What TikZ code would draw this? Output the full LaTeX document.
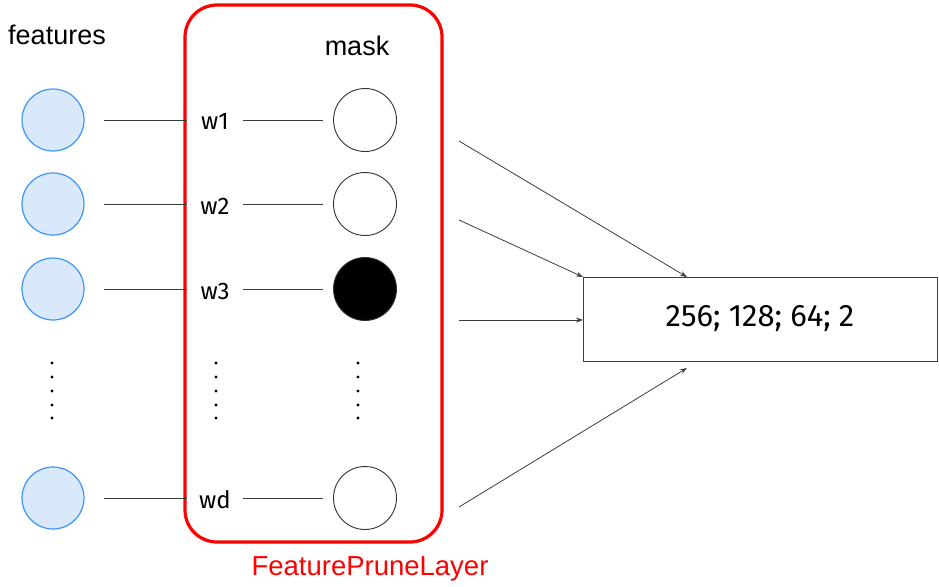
\documentclass[tikz,border=0pt]{standalone}
\usepackage{fontspec}
\setmainfont{Liberation Sans}
\newfontfamily\comicish{Fira Sans}
\usetikzlibrary{arrows.meta}
\definecolor{featfill}{RGB}{218,232,252}
\definecolor{featline}{RGB}{60,150,250}
\definecolor{prunered}{RGB}{255,0,0}
\definecolor{conn}{RGB}{60,60,60}
\begin{document}
\begin{tikzpicture}[x=1pt,y=-1pt,
  feat/.style={circle,draw=featline,fill=featfill,line width=1.2pt,minimum size=62pt,inner sep=0pt},
  maskc/.style={circle,draw=black!80,fill=white,line width=0.9pt,minimum size=63pt,inner sep=0pt},
  wlab/.style={font=\comicish\fontsize{24}{26}\selectfont,inner sep=0pt},
  link/.style={draw=conn,line width=0.8pt},
  arr/.style={draw=conn,line width=0.8pt,-{Stealth[length=7pt,width=5pt]}},
  dot/.style={circle,fill=black,inner sep=0pt,minimum size=3.2pt}]
\useasboundingbox (0,0) rectangle (939,586);
% red layer box
\node[draw=prunered,line width=3.2pt,rounded corners=32pt,minimum width=257pt,minimum height=537pt,inner sep=0pt] (layer) at (313.5,273.5) {};
\node[text=prunered,font=\fontsize{27.5}{30}\selectfont] (lname) at (370,569) {FeaturePruneLayer};
\node[font=\fontsize{27}{29}\selectfont] (ftxt) at (57,35) {features};
\node[font=\fontsize{27}{29}\selectfont] (mtxt) at (357,46) {mask};
% feature circles
\node[feat] (f1) at (53,120) {};
\node[feat] (f2) at (53,204) {};
\node[feat] (f3) at (53,289) {};
\node[feat] (fd) at (53,498) {};
% weights
\node[wlab] (w1) at (215,121) {w1};
\node[wlab] (w2) at (215,206) {w2};
\node[wlab] (w3) at (215,291) {w3};
\node[wlab] (wd) at (215,500) {wd};
% masks
\node[maskc] (m1) at (365,120) {};
\node[maskc] (m2) at (365,204) {};
\node[maskc,fill=black] (m3) at (365,289) {};
\node[maskc] (md) at (365,498) {};
% links
\coordinate (a1) at (104,120); \coordinate (b1) at (187,120);
\coordinate (a2) at (104,204); \coordinate (b2) at (187,204);
\coordinate (a3) at (104,289); \coordinate (b3) at (187,289);
\coordinate (ad) at (104,498); \coordinate (bd) at (187,498);
\draw[link] (a1) -- (b1); \draw[link] (a2) -- (b2); \draw[link] (a3) -- (b3); \draw[link] (ad) -- (bd);
\coordinate (c1) at (243,120); \coordinate (d1) at (323,120);
\coordinate (c2) at (243,204); \coordinate (d2) at (323,204);
\coordinate (c3) at (243,289); \coordinate (d3) at (323,289);
\coordinate (cd) at (243,498); \coordinate (dd) at (323,498);
\draw[link] (c1) -- (d1); \draw[link] (c2) -- (d2); \draw[link] (c3) -- (d3); \draw[link] (cd) -- (dd);
% dots
\foreach \yy [count=\i] in {363,377,391,405,418}{
  \node[dot] (fdot\i) at (52,\yy) {};
  \node[dot] (wdot\i) at (216,\yy) {};
  \node[dot] (mdot\i) at (358,\yy) {};
}
% output box
\node[draw=conn,line width=0.9pt,minimum width=354pt,minimum height=84pt,inner sep=0pt,font=\comicish\fontsize{31}{33}\selectfont] (out) at (760,319) {256; 128; 64; 2};
% arrows
\coordinate (s1) at (459,141);
\coordinate (s2) at (459,220);
\coordinate (s3) at (459,320);
\coordinate (s4) at (459,507);
\coordinate (t1) at (687,277);
\coordinate (t2) at (583,277);
\coordinate (t3) at (583,320);
\coordinate (t4) at (687,368);
\draw[arr] (s1) -- (t1);
\draw[arr] (s2) -- (t2);
\draw[arr] (s3) -- (t3);
\draw[arr] (s4) -- (t4);
\end{tikzpicture}
\end{document}
